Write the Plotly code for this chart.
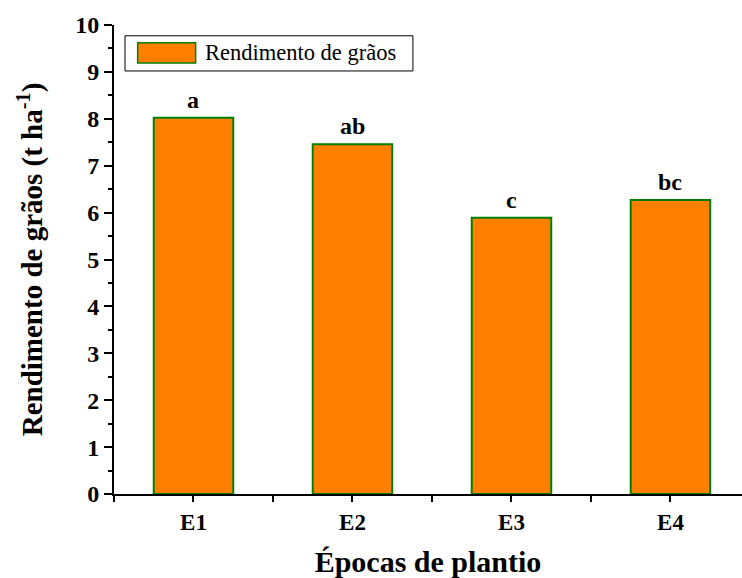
import plotly.graph_objects as go

# Grain yield by planting date
categories = ["E1", "E2", "E3", "E4"]
yield_t_ha = [8.02, 7.46, 5.89, 6.27]
letters = ["a", "ab", "c", "bc"]
series_name = "Rendimento de grãos"

FONT = "Liberation Serif"
ORANGE = "#FF8000"
GREEN = "#008000"

xpos = list(range(len(categories)))


def bold(size):
    return dict(family=FONT, size=size, color="black", weight="bold")


fig = go.Figure()
fig.add_trace(go.Bar(
    x=xpos, y=yield_t_ha, width=0.5, name=series_name,
    marker=dict(color=ORANGE, line=dict(color=GREEN, width=2)),
    showlegend=False,
))

# significance letters above bars
for xi, v, lab in zip(xpos, yield_t_ha, letters):
    fig.add_annotation(x=xi, y=v, text=lab, showarrow=False,
                       yanchor="bottom", yshift=3, font=bold(24))

# legend box drawn in paper coordinates
fig.add_shape(type="rect", xref="paper", yref="paper",
              x0=0.0175, x1=0.476, y0=0.902, y1=0.977,
              line=dict(color="black", width=1), fillcolor="white")
fig.add_shape(type="rect", xref="paper", yref="paper",
              x0=0.0377, x1=0.130, y0=0.919, y1=0.962,
              line=dict(color=GREEN, width=1.5), fillcolor=ORANGE)
fig.add_annotation(x=0.1417, y=0.9405, xref="paper", yref="paper",
                   xanchor="left", yanchor="middle", showarrow=False,
                   text=series_name,
                   font=dict(family=FONT, size=22.5, color="black"))

fig.update_layout(
    width=742, height=578,
    margin=dict(l=114, r=0, t=25, b=84),
    plot_bgcolor="white", paper_bgcolor="white",
    font=dict(family=FONT, color="black"),
)

fig.update_xaxes(
    range=[-0.5, 3.45],
    tickmode="array", tickvals=xpos, ticktext=categories,
    ticks="outside", ticklen=6, tickwidth=2, tickcolor="black",
    minor=dict(tickmode="linear", tick0=-0.5, dtick=1, ticks="outside",
               ticklen=6, tickwidth=2, tickcolor="black"),
    showline=True, linecolor="black", linewidth=2,
    showgrid=False, zeroline=False,
    tickfont=bold(23),
    title=dict(text="Épocas de plantio", standoff=20, font=bold(30)),
)

fig.update_yaxes(
    range=[0, 10], dtick=1, tick0=0,
    ticks="outside", ticklen=8, tickwidth=2, tickcolor="black",
    minor=dict(dtick=0.5, ticks="outside", ticklen=4, tickwidth=2,
               tickcolor="black"),
    showline=True, linecolor="black", linewidth=2,
    showgrid=False, zeroline=False,
    tickfont=bold(24),
    title=dict(text="Rendimento de grãos (t ha<sup>-1</sup>)",
               standoff=24, font=bold(29)),
)

fig.write_html("out.html")
